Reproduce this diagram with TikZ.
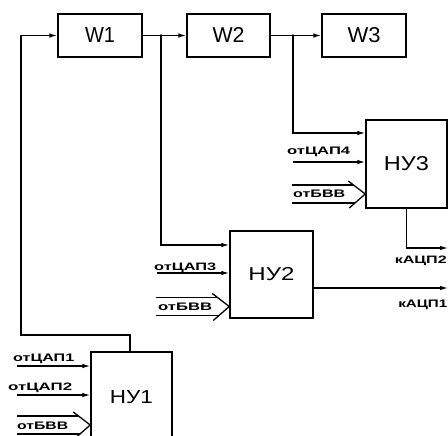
\documentclass[tikz,border=0pt]{standalone}
\usepackage{fontspec}
\setmainfont{Liberation Sans}
\usepackage{graphicx}
\usetikzlibrary{arrows.meta,calc}
\newcommand{\blab}[3]{\resizebox{#1pt}{#2pt}{#3}}
\newcommand{\slab}[3]{\resizebox{#1pt}{#2pt}{\bfseries #3}}
\tikzset{
  blk/.style={draw, line width=1.5pt, inner sep=0pt, rectangle},
  wire/.style={line width=1.3pt},
  arr/.style={wire, -{Latex[length=8pt,width=4.6pt]}},
  lbl/.style={inner sep=0pt},
  jdot/.style={fill, circle, inner sep=0pt, minimum size=2.6pt}
}
\newcommand{\busin}[1]{%
  \draw[wire] ($(#1)+(-17,-13)$) -- (#1) -- ($(#1)+(-16,14)$);
  \draw[wire] ($(#1)+(-12.5,-9)$) -- ($(#1)+(-73,-9)$);
  \draw[wire] ($(#1)+(-10,9)$) -- ($(#1)+(-73,9)$);
}
\begin{document}
\begin{tikzpicture}[x=1pt,y=-1pt]
\useasboundingbox (0,0) rectangle (448,436);
% blocks
\node[blk, minimum width=84pt, minimum height=43pt] (W1) at (100,35.5) {\blab{30}{15}{W1}};
\node[blk, minimum width=83pt, minimum height=43pt] (W2) at (228.5,35.5) {\blab{32}{15}{W2}};
\node[blk, minimum width=84pt, minimum height=43pt] (W3) at (364,35.5) {\blab{33}{15}{W3}};
\node[blk, minimum width=81pt, minimum height=88pt] (NU3) at (406.5,164) {\blab{45}{14}{НУ3}};
\node[blk, minimum width=83pt, minimum height=87pt] (NU2) at (271.5,274.5) {\blab{46}{13}{НУ2}};
\node[blk, minimum width=81pt, minimum height=90pt] (NU1) at (131.5,397) {\blab{43}{13}{НУ1}};
% coordinates
\coordinate (b1) at (161,35.5);
\coordinate (b2) at (293,35.5);
\coordinate (fb) at (21,335);
\coordinate (o3) at (448,248);
\coordinate (o2) at (448,288);
\coordinate (i4) at (293,162);
\coordinate (i3) at (157,273);
\coordinate (i1) at (17,366);
\coordinate (i2) at (17,395);
\coordinate (t3) at (NU3.west |- 0,194);
\coordinate (t2) at (NU2.west |- 0,306.5);
\coordinate (t1) at (NU1.west |- 0,425);
% main chain
\draw[arr] (W1.east) -- (W2.west);
\draw[arr] (W2.east) -- (W3.west);
\node[jdot] (j1) at (b1) {};
\node[jdot] (j2) at (b2) {};
\draw[arr] (j1.center) |- (NU2.west |- 0,245);
\draw[arr] (j2.center) |- (NU3.west |- 0,133);
% feedback
\draw[arr] ([xshift=-1.5pt]NU1.north) |- (fb) |- (W1.west);
% outputs
\draw[arr] (NU3.south) |- (o3);
\draw[arr] (NU2.east |- o2) -- (o2);
% inputs
\draw[arr] (i4) -- (NU3.west |- i4);
\draw[arr] (i3) -- (NU2.west |- i3);
\draw[arr] (i1) -- (NU1.west |- i1);
\draw[arr] (i2) -- (NU1.west |- i2);
\busin{t3}
\busin{t2}
\busin{t1}
% labels
\node[lbl, anchor=base west] (L4) at (287,155) {\slab{63}{7.5}{отЦАП4}};
\node[lbl, anchor=base west] (LB3) at (293,198) {\slab{52}{7.5}{отБВВ}};
\node[lbl, anchor=base west] (L3) at (154,270) {\slab{62}{7.5}{отЦАП3}};
\node[lbl, anchor=base west] (LB2) at (158,310) {\slab{54}{7.5}{отБВВ}};
\node[lbl, anchor=base west] (L1) at (13,361) {\slab{61}{7.5}{отЦАП1}};
\node[lbl, anchor=base west] (L2) at (8,390) {\slab{64}{7.5}{отЦАП2}};
\node[lbl, anchor=base west] (LB1) at (17,429) {\slab{51}{7.5}{отБВВ}};
\node[lbl, anchor=base east] (K2) at (447,263) {\slab{52}{7.5}{кАЦП2}};
\node[lbl, anchor=base east] (K1) at (447.5,308) {\slab{49}{7.5}{кАЦП1}};
\end{tikzpicture}
\end{document}
